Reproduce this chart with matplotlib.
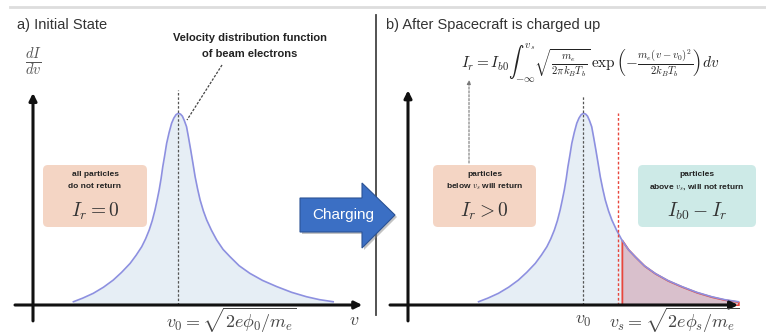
import matplotlib
matplotlib.use("Agg")
import matplotlib.pyplot as plt
import numpy as np
from matplotlib.patches import FancyBboxPatch, Polygon

plt.rcParams['font.family'] = ['Liberation Sans', 'DejaVu Sans']
plt.rcParams['mathtext.fontset'] = 'cm'

# beam electron distribution: offset from v0, height (peak = 1)
dv = [-3.79, -3.45, -3.07, -2.70, -2.35, -2.05, -1.74, -1.52, -1.32, -1.18,
      -1.05, -0.94, -0.84, -0.76, -0.69, -0.62, -0.56, -0.49, -0.42, -0.33,
      -0.24, -0.16, -0.08, 0.0, 0.08, 0.15, 0.22, 0.30, 0.37, 0.45,
      0.53, 0.61, 0.70, 0.79, 0.91, 1.03, 1.20, 1.39, 1.62, 1.87,
      2.20, 2.59, 3.05, 3.56, 4.10, 4.64, 5.10, 5.60]
f = [0.017, 0.036, 0.061, 0.093, 0.130, 0.170, 0.217, 0.260, 0.304, 0.345,
     0.391, 0.440, 0.496, 0.550, 0.600, 0.660, 0.721, 0.780, 0.843, 0.900,
     0.948, 0.975, 0.993, 1.0, 0.996, 0.985, 0.962, 0.930, 0.875, 0.809,
     0.740, 0.669, 0.605, 0.548, 0.490, 0.443, 0.390, 0.339, 0.290, 0.252,
     0.205, 0.165, 0.128, 0.096, 0.066, 0.043, 0.028, 0.017]
v0_a = 5.25     # peak position, panel a
v0_b = 6.34     # peak position, panel b
vs = 7.60       # return threshold after charging

W, H = 766, 336
BLUE = '#8d90e0'
FILL = '#e6eef5'
RED = '#e8463c'
INK = '#333333'

fig = plt.figure(figsize=(W / 100, H / 100), dpi=100)

# overlay in pixel coordinates for the diagram furniture
bg = fig.add_axes([0, 0, 1, 1])
bg.set_xlim(0, W)
bg.set_ylim(H, 0)
bg.axis('off')


def px_axes(x0, x1, ytop, ybot):
    ax = fig.add_axes([x0 / W, (H - ybot) / H, (x1 - x0) / W, (ybot - ytop) / H])
    ax.set_xlim(0, 12)
    ax.set_ylim(0, 1.1216)
    ax.axis('off')
    return ax


ax_a = px_axes(33, 365, 90, 305)
ax_b = px_axes(408, 740, 90, 305)

va = v0_a + np.array(dv)
vb = v0_b + np.array(dv)
fa = np.array(f)

arrow_kw = dict(arrowstyle='-|>', lw=2.2, color='#111111', mutation_scale=11,
                shrinkA=0, shrinkB=0)

# ---- panel a
ax_a.fill_between(va, fa, color=FILL, lw=0)
ax_a.plot(va, fa, color=BLUE, lw=1.2)
ax_a.vlines(v0_a, 0, 1.12, color='#555555', lw=0.9, linestyles=(0, (2, 1.5)))
ax_a.annotate('', xy=(11.9, 0), xytext=(-0.65, 0), arrowprops=arrow_kw,
              annotation_clip=False)
ax_a.annotate('', xy=(0, 1.106), xytext=(0, -0.083), arrowprops=arrow_kw,
              annotation_clip=False)
ax_a.text(7.19, -0.08, r'$v_0 = \sqrt{2e\phi_0/m_e}$', ha='center',
          va='center', fontsize=13, color='#444444')
ax_a.text(11.6, -0.08, r'$v$', ha='center', va='center', fontsize=13,
          color='#444444')

# ---- panel b
ax_b.fill_between(vb, fa, color=FILL, lw=0)
ax_b.fill_between(vb, fa, where=vb >= vs, interpolate=True, facecolor='#d9c0cc',
                  edgecolor=RED, lw=1.3)
ax_b.plot(vb, fa, color=BLUE, lw=1.2)
ax_b.vlines(v0_b, 0, 1.095, color='#555555', lw=0.9, linestyles=(0, (2, 1.5)))
ax_b.vlines(vs, 0, 1.0, color=RED, lw=1.0, linestyles=(0, (2, 1.5)))
ax_b.annotate('', xy=(11.93, 0), xytext=(-0.65, 0), arrowprops=arrow_kw,
              annotation_clip=False)
ax_b.annotate('', xy=(0, 1.12), xytext=(0, -0.083), arrowprops=arrow_kw,
              annotation_clip=False)
ax_b.text(v0_b, -0.08, r'$v_0$', ha='center', va='center', fontsize=13,
          color='#444444')
ax_b.text(9.61, -0.08, r'$v_s = \sqrt{2e\phi_s/m_e}$', ha='center',
          va='center', fontsize=13, color='#444444')

# ---- furniture
bg.plot([10, W], [7, 7], color='#dddddd', lw=2)
bg.plot([376, 376], [15, 315], color='#444444', lw=1.3)

bg.text(17, 25, 'a) Initial State', fontsize=10.5, color=INK, va='center')
bg.text(386, 25, 'b) After Spacecraft is charged up', fontsize=10.5, color=INK,
        va='center')
bg.text(33, 62, r'$\frac{dI}{dv}$', fontsize=15, color='#555555', ha='center',
        va='center')

bg.text(250, 38, 'Velocity distribution function', fontsize=8, weight='bold',
        ha='center', va='center', color='#222222')
bg.text(250, 54, 'of beam electrons', fontsize=8, weight='bold',
        ha='center', va='center', color='#222222')
bg.plot([222, 187], [65, 120], color='#444444', lw=0.9, ls=(0, (2, 1.2)))

bg.text(590, 63,
        r'$I_r = I_{b0}\int_{-\infty}^{v_s}\sqrt{\frac{m_e}{2\pi k_B T_b}}'
        r'\,\exp\left(-\frac{m_e(v-v_0)^2}{2k_B T_b}\right)dv$',
        fontsize=11, ha='center', va='center', color='#222222')
bg.annotate('', xy=(469, 80), xytext=(469, 163),
            arrowprops=dict(arrowstyle='-|>', lw=0.8, color='#777777',
                            ls=(0, (2, 1.5)), mutation_scale=6,
                            shrinkA=0, shrinkB=0))

SALMON = '#f4d5c4'
TEAL = '#cdeae7'
boxes = [(43, 147, SALMON, ['all particles', 'do not return'], r'$I_r = 0$'),
         (433, 536, SALMON, ['particles', r'below $v_s$ will return'], r'$I_r > 0$'),
         (638, 756, TEAL, ['particles', r'above $v_s$, will not return'],
          r'$I_{b0} - I_r$')]
for x0, x1, col, lines, eq in boxes:
    bg.add_patch(FancyBboxPatch((x0, 165), x1 - x0, 62,
                                boxstyle='round,pad=0,rounding_size=5',
                                facecolor=col, edgecolor='none'))
    xc = (x0 + x1) / 2
    bg.text(xc, 175, lines[0], fontsize=6, weight='bold', ha='center',
            va='center', color='#222222')
    bg.text(xc, 187, lines[1], fontsize=6, weight='bold', ha='center',
            va='center', color='#222222')
    bg.text(xc, 211, eq, fontsize=14, ha='center', va='center', color='#333333')

# charging arrow with soft shadow
arrow_pts = np.array([[300, 198], [362, 198], [362, 183], [395, 215],
                      [362, 248], [362, 232], [300, 232]])
bg.add_patch(Polygon(arrow_pts + [2, 2], closed=True, facecolor='#888888',
                     alpha=0.5, edgecolor='none', zorder=4))
bg.add_patch(Polygon(arrow_pts, closed=True, facecolor='#3b6fc4',
                     edgecolor='#2b5396', lw=0.8, zorder=5))
bg.text(343, 215, 'Charging', color='white', fontsize=11, ha='center',
        va='center', zorder=6)

fig.savefig('out.png', dpi=100)
